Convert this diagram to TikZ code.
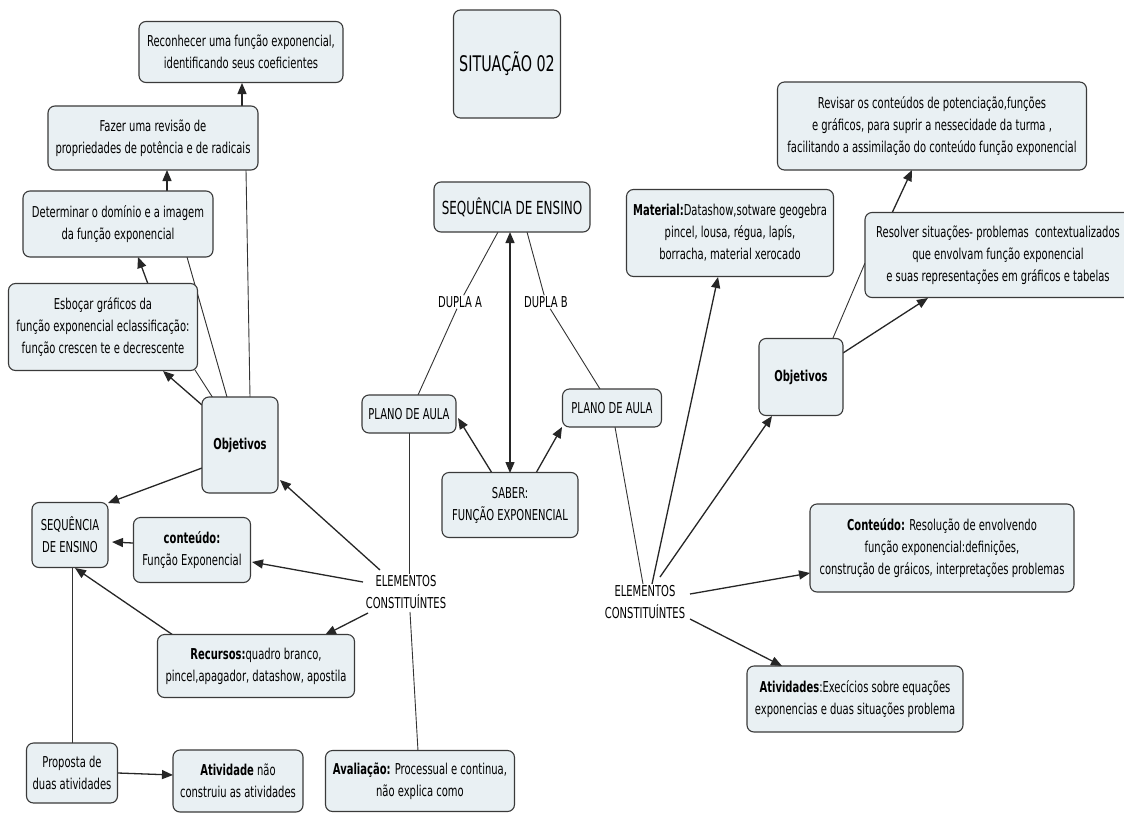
\documentclass[tikz,border=0pt]{standalone}
\usepackage{fontspec}
\setmainfont{DejaVu Sans Condensed}[FakeStretch=0.74]
\usetikzlibrary{arrows.meta,calc}
\definecolor{boxfill}{HTML}{E9F0F3}
\definecolor{boxdraw}{HTML}{3A3A3A}
\newcommand\nt{\fontsize{15}{22}\selectfont}
\pgfdeclarelayer{background}
\pgfsetlayers{background,main}
\begin{document}
\begin{tikzpicture}[x=1pt,y=-1pt,
  box/.style={draw=boxdraw, fill=boxfill, rounded corners=7pt, line width=1.1pt, align=center, inner sep=0pt, font=\nt},
  lbl/.style={align=center, inner sep=1pt, font=\nt},
  arr/.style={-{Triangle[length=11pt,width=9pt]}, line width=1.3pt, draw=black!85},
  darr/.style={{Triangle[length=11pt,width=9pt]}-{Triangle[length=11pt,width=9pt]}, line width=1.3pt, draw=black!85},
  ln/.style={line width=0.9pt, draw=black!80}]
\useasboundingbox (0,0) rectangle (1124,814);
% nodes
\node[box, minimum width=204, minimum height=61] (rec) at (241,52) {Reconhecer uma função exponencial,\\identificando seus coeficientes};
\node[box, minimum width=210, minimum height=64] (faz) at (153,138) {Fazer uma revisão de\\propriedades de potência e de radicais};
\node[box, minimum width=190, minimum height=66] (det) at (118,224) {Determinar o domínio e a imagem\\da função exponencial};
\node[box, minimum width=189, minimum height=87] (esb) at (103,327) {Esboçar gráficos da\\função exponencial eclassificação:\\função crescen te e decrescente};
\node[box, minimum width=76, minimum height=96] (objL) at (240,445) {\textbf{Objetivos}};
\node[box, minimum width=76, minimum height=65] (seqL) at (70,535) {SEQUÊNCIA\\DE ENSINO};
\node[box, minimum width=117, minimum height=65] (cont) at (192,550) {\textbf{conteúdo:}\\Função Exponencial};
\node[box, minimum width=197, minimum height=63] (recu) at (256,666) {\textbf{Recursos:}quadro branco,\\pincel,apagador, datashow, apostila};
\node[box, minimum width=91, minimum height=60] (prop) at (72,773) {Proposta de\\duas atividades};
\node[box, minimum width=130, minimum height=62] (ativ) at (238,781) {\textbf{Atividade} não\\construiu as atividades};
\node[box, minimum width=189, minimum height=61] (aval) at (420,781) {\textbf{Avaliação:} Processual e continua,\\não explica como};
\node[lbl] (eleL) at (406,592) {ELEMENTOS\\CONSTITUÍNTES};
\node[box, minimum width=94, minimum height=38] (planL) at (409,414) {PLANO DE AULA};
\node[box, minimum width=136, minimum height=65] (saber) at (510,505) {SABER:\\FUNÇÃO EXPONENCIAL};
\node[box, minimum width=99, minimum height=38] (planR) at (612,408) {PLANO DE AULA};
\node[lbl] (eleR) at (645,602) {ELEMENTOS\\CONSTITUÍNTES};
\node[box, minimum width=156, minimum height=50, font=\fontsize{18}{22}\selectfont] (seqC) at (512,207) {SEQUÊNCIA DE ENSINO};
\node[box, minimum width=107, minimum height=108, font=\fontsize{21.5}{24}\selectfont] (sit) at (507,64) {SITUAÇÃO 02};
\node[box, minimum width=207, minimum height=87] (mat) at (730,233) {\textbf{Material:}Datashow,sotware geogebra\\pincel, lousa, régua, lapís,\\borracha, material xerocado};
\node[box, minimum width=309, minimum height=88] (rev) at (932,126) {Revisar os conteúdos de potenciação,funções\\e gráficos, para suprir a nessecidade da turma ,\\facilitando a assimilação do conteúdo função exponencial};
\node[box, minimum width=266, minimum height=85] (res) at (998,255) {Resolver situações- problemas~~contextualizados\\que envolvam função exponencial\\e suas representações em gráficos e tabelas};
\node[box, minimum width=84, minimum height=77] (objR) at (801,377) {\textbf{Objetivos}};
\node[box, minimum width=264, minimum height=88] (contR) at (942,548) {\textbf{Conteúdo:} Resolução de envolvendo\\função exponencial:definições,\\construção de gráicos, interpretações problemas};
\node[box, minimum width=216, minimum height=66] (ativR) at (855,699) {\textbf{Atividades}:Execícios sobre equações\\exponencias e duas situações problema};
\node[lbl] (dA) at (460,302) {DUPLA A};
\node[lbl] (dB) at (546,302) {DUPLA B};
% connectors
\begin{pgfonlayer}{background}
\fill[white] (0,0) rectangle (1124,814);
\draw[ln] ($(objL)+(10,-48)$) -- ($(faz)+(93,32)$);
\draw[arr] ($(faz)+(89,-32)$) -- ($(rec)+(1,31)$);
\draw[ln] ($(objL)+(-13,-48)$) -- ($(det)+(69,33)$);
\draw[arr] ($(det)+(49,-33)$) -- ($(faz)+(14,32)$);
\draw[ln] ($(objL)+(-27,-47)$) -- ($(esb)+(92,43)$);
\draw[arr] ($(objL)+(-38,-40)$) -- ($(esb)+(60,44)$);
\draw[arr] ($(esb)+(45,-43)$) -- ($(det)+(20,33)$);
\draw[arr] ($(objL)+(-38,23)$) -- ($(seqL)+(38,-32)$);
\draw[arr] ($(cont)+(-59,-7)$) -- ($(seqL)+(42,7)$);
\draw[arr] ($(eleL)+(-43,-10)$) -- ($(cont)+(60,12)$);
\draw[arr] ($(eleL)+(-26,-22)$) -- ($(objL)+(40,35)$);
\draw[arr] ($(eleL)+(-38,21)$) -- ($(recu)+(69,-31)$);
\draw[arr] ($(recu)+(-83,-31)$) -- ($(seqL)+(5,33)$);
\draw[ln] ($(prop)+(0,-30)$) -- ($(seqL)+(2,32)$);
\draw[arr] ($(prop)+(46,0)$) -- ($(ativ)+(-65,-6)$);
\draw[ln] ($(planL)+(0,19)$) -- ($(eleL)+(3,-18)$);
\draw[ln] ($(eleL)+(4,20)$) -- ($(aval)+(-2,-30)$);
\draw[ln] ($(seqC)+(-14,25)$) -- (dA);
\draw[ln] (dA) -- ($(planL)+(9,-19)$);
\draw[ln] ($(seqC)+(15,25)$) -- (dB);
\draw[ln] (dB) -- ($(planR)+(-12,-19)$);
\draw[darr] ($(seqC)+(-2,25)$) -- ($(saber)+(0,-32)$);
\draw[arr] ($(saber)+(-18,-32)$) -- ($(planL)+(49,4)$);
\draw[arr] ($(saber)+(26,-32)$) -- ($(planR)+(-50,19)$);
\draw[ln] ($(planR)+(3,19)$) -- ($(eleR)+(-2,-18)$);
\draw[arr] ($(eleR)+(7,-18)$) -- ($(mat)+(-12,44)$);
\draw[arr] ($(eleR)+(15,-25)$) -- ($(objR)+(-29,39)$);
\draw[arr] ($(eleR)+(45,-8)$) -- ($(contR)+(-132,25)$);
\draw[arr] ($(eleR)+(45,17)$) -- ($(ativR)+(-73,-33)$);
\draw[ln] ($(objR)+(32,-39)$) -- ($(res)+(-133,8)$);
\draw[arr] ($(res)+(-106,-42)$) -- ($(rev)+(-20,44)$);
\draw[arr] ($(objR)+(42,-24)$) -- ($(res)+(-70,43)$);
\end{pgfonlayer}
\end{tikzpicture}
\end{document}
